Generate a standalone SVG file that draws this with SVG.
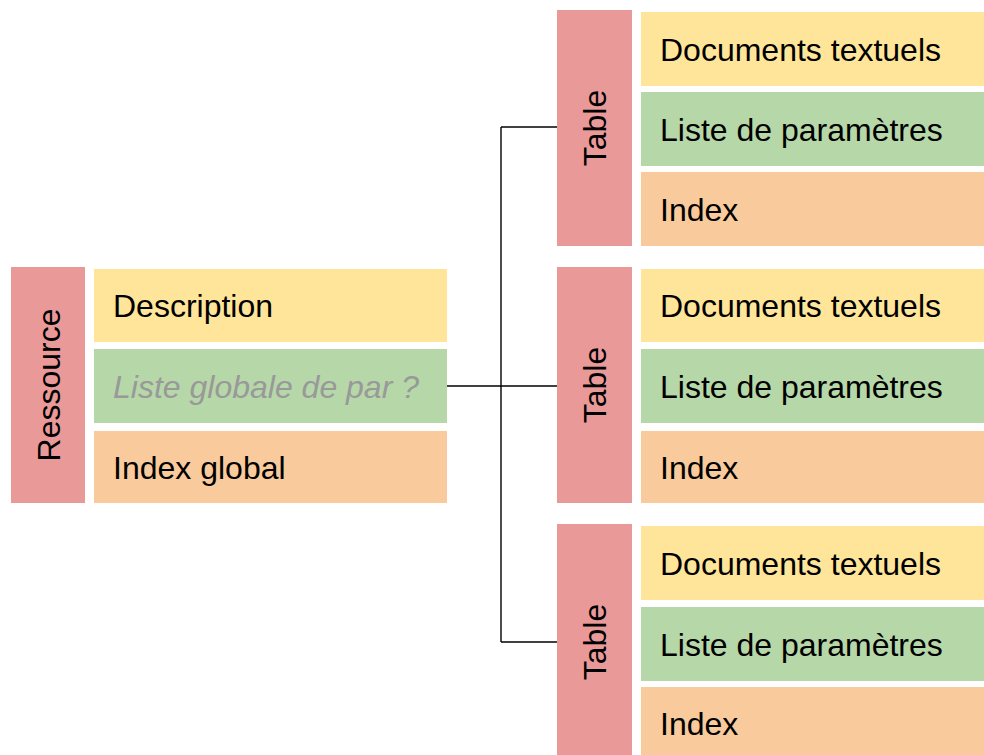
<svg xmlns="http://www.w3.org/2000/svg" width="984" height="755" viewBox="0 0 984 755">
<style>
.bar{fill:#ea9999}
.y{fill:#ffe599}
.g{fill:#b6d7a8}
.o{fill:#f9cb9c}
text{font-family:"Liberation Sans",Arial,sans-serif;font-size:32px;fill:#000}
.it{font-style:italic;fill:#999999}
.vt{text-anchor:middle}
.conn{fill:none;stroke:#000;stroke-width:1.4}
</style>
<rect width="984" height="755" fill="#fff"/>
<g id="connectors">
<path class="conn" d="M447,386 H557"/>
<path class="conn" d="M501,127 V642"/>
<path class="conn" d="M501,127 H557"/>
<path class="conn" d="M501,642 H557"/>
</g>
<g id="ressource">
<rect class="bar" x="11" y="267" width="74" height="236"/>
<text class="vt" transform="translate(59.5,385) rotate(-90)">Ressource</text>
<rect class="y" x="94" y="269" width="353" height="73"/>
<text x="113" y="317">Description</text>
<rect class="g" x="94" y="349" width="353" height="74"/>
<text class="it" x="113" y="397.5">Liste globale de par ?</text>
<rect class="o" x="94" y="431" width="353" height="72"/>
<text x="113" y="478.5">Index global</text>
</g>
<g id="table1">
<rect class="bar" x="557" y="10" width="75" height="236"/>
<text class="vt" transform="translate(606,128) rotate(-90)">Table</text>
<rect class="y" x="641" y="12" width="343" height="74"/>
<text x="660" y="60.5">Documents textuels</text>
<rect class="g" x="641" y="92" width="343" height="74"/>
<text x="660" y="140.5">Liste de paramètres</text>
<rect class="o" x="641" y="172" width="343" height="74"/>
<text x="660" y="220.5">Index</text>
</g>
<g id="table2">
<rect class="bar" x="557" y="267" width="75" height="236"/>
<text class="vt" transform="translate(606,385) rotate(-90)">Table</text>
<rect class="y" x="641" y="269" width="343" height="73"/>
<text x="660" y="317">Documents textuels</text>
<rect class="g" x="641" y="349" width="343" height="74"/>
<text x="660" y="397.5">Liste de paramètres</text>
<rect class="o" x="641" y="431" width="343" height="72"/>
<text x="660" y="478.5">Index</text>
</g>
<g id="table3">
<rect class="bar" x="557" y="524" width="75" height="240"/>
<text class="vt" transform="translate(606,642) rotate(-90)">Table</text>
<rect class="y" x="641" y="526" width="343" height="74"/>
<text x="660" y="574.5">Documents textuels</text>
<rect class="g" x="641" y="607" width="343" height="74"/>
<text x="660" y="655.5">Liste de paramètres</text>
<rect class="o" x="641" y="687" width="343" height="74"/>
<text x="660" y="735">Index</text>
</g>
</svg>
